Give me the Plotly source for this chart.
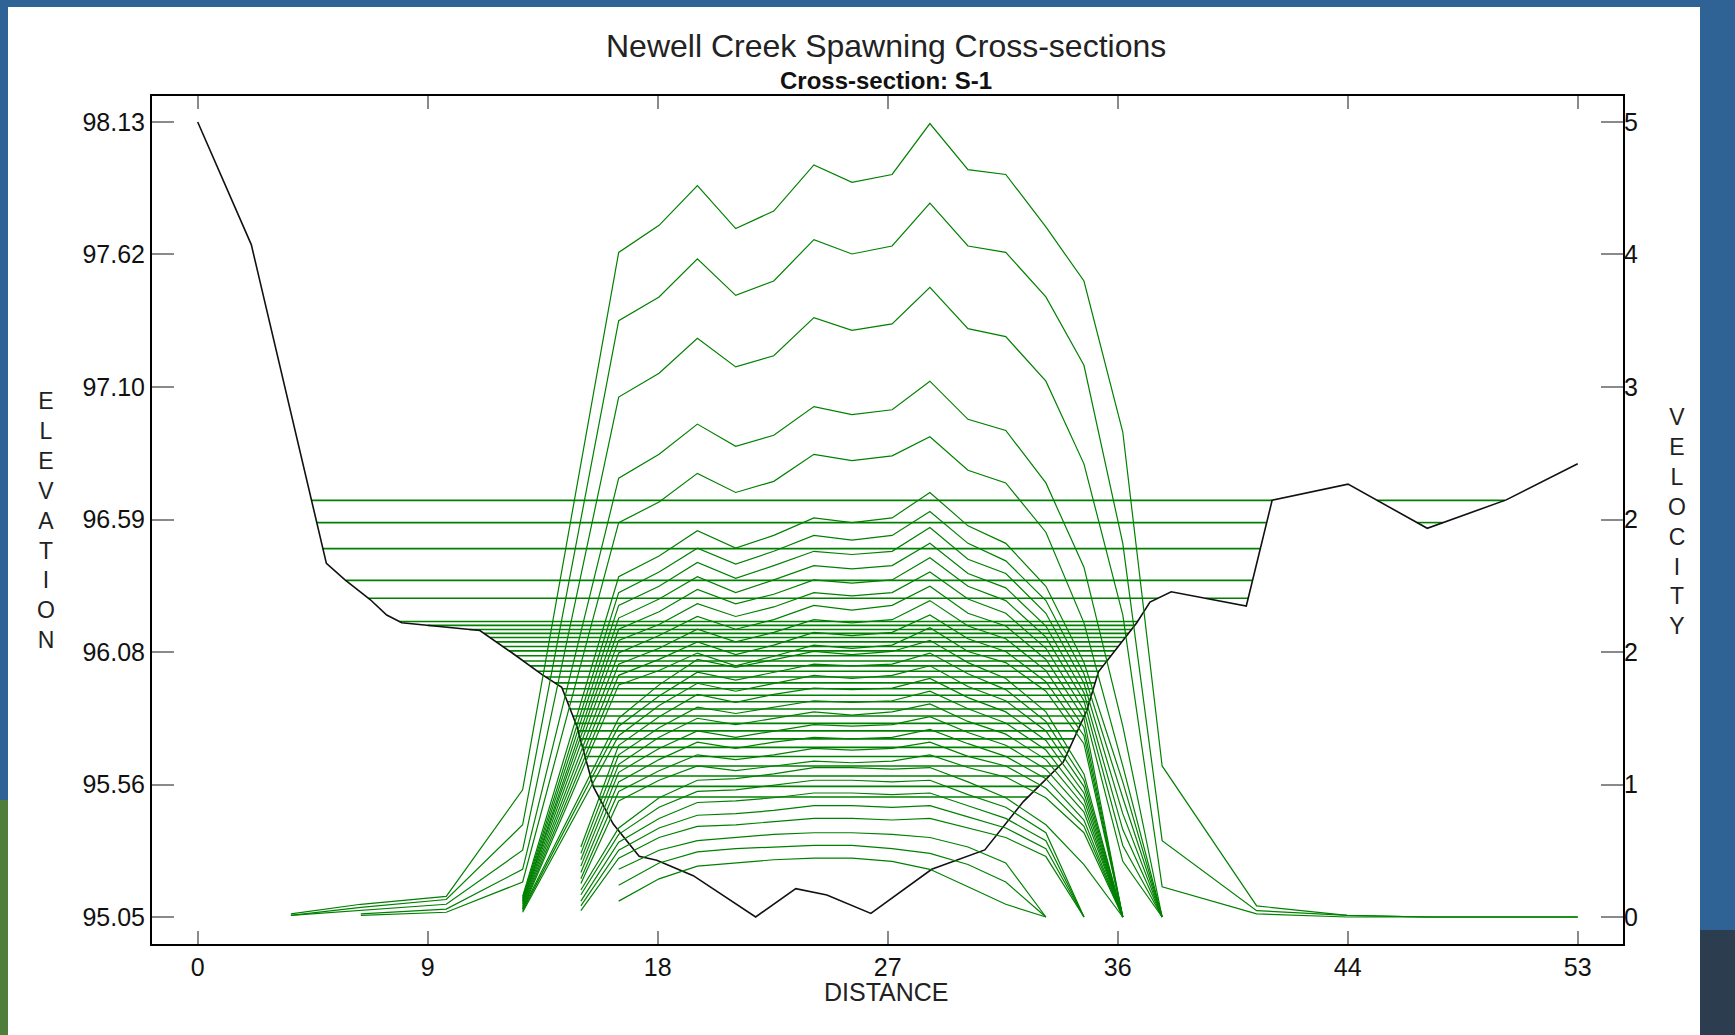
import plotly.graph_objects as go

# ---------------- data ----------------
bed_station = [0.0, 2.07, 4.97, 5.69, 6.66, 7.30, 7.88, 10.90, 12.19, 13.29, 14.06, 14.64, 15.28, 16.05,
               17.05, 17.73, 19.14, 21.55, 23.10, 24.30, 26.00, 28.35, 30.40, 31.89, 33.43, 34.34, 34.79,
               35.50, 36.27, 36.78, 37.60, 40.50, 41.50, 44.43, 47.49, 50.54, 53.30]
bed_elev = [98.13, 97.655, 96.42, 96.356, 96.28, 96.22, 96.19, 96.16, 96.07, 95.99, 95.94, 95.79, 95.555, 95.41,
            95.285, 95.27, 95.21, 95.05, 95.16, 95.135, 95.064, 95.235, 95.31, 95.497, 95.65, 95.85, 96.0,
            96.09, 96.19, 96.27, 96.31, 96.255, 96.665, 96.727, 96.556, 96.666, 96.806]

wse_levels = [96.664, 96.578, 96.477, 96.354, 96.285,
              96.195, 96.180, 96.164, 96.149, 96.133, 96.116, 96.098, 96.081, 96.062, 96.042,
              96.023, 96.002, 95.980, 95.957, 95.934, 95.909, 95.884, 95.856, 95.829, 95.800,
              95.771, 95.740, 95.707, 95.672, 95.635, 95.596, 95.556, 95.515]

vel_station = [3.6, 6.3, 9.6, 12.55, 14.8, 16.26, 17.82, 19.30, 20.78, 22.25, 23.80, 25.27, 26.82,
               28.28, 29.75, 31.21, 32.76, 34.23, 35.73, 37.25, 40.9, 44.4, 47.5, 50.5, 53.3]
N = None
velocity_profiles = [
    [0.02, 0.08, 0.13, 0.80, N, 4.18, 4.35, 4.60, 4.33, 4.44, 4.73, 4.62, 4.67, 4.99, 4.70, 4.67, 4.34, 4.00, 3.05, 0.95, 0.07, 0.01, 0.0, 0.0, 0.0],
    [0.01, 0.06, 0.11, 0.58, N, 3.75, 3.90, 4.14, 3.91, 4.00, 4.26, 4.17, 4.22, 4.49, 4.22, 4.18, 3.90, 3.47, 2.35, 0.48, 0.04, 0.01, 0.0, 0.0, 0.0],
    [0.01, 0.04, 0.08, 0.42, N, 3.27, 3.42, 3.64, 3.46, 3.53, 3.77, 3.69, 3.73, 3.96, 3.70, 3.65, 3.37, 2.85, 1.90, 0.19, 0.02, 0.0, 0.0, 0.0, 0.0],
    [N, 0.02, 0.05, 0.30, N, 2.76, 2.91, 3.10, 2.96, 3.03, 3.21, 3.16, 3.19, 3.37, 3.13, 3.06, 2.73, 2.20, 1.20, 0.0, N, N, N, N, N],
    [N, 0.01, 0.03, 0.22, N, 2.48, 2.61, 2.79, 2.67, 2.74, 2.91, 2.87, 2.90, 3.02, 2.81, 2.73, 2.42, 1.85, 0.95, 0.0, N, N, N, N, N],
    [N, N, N, 0.13, N, 2.14, 2.27, 2.43, 2.32, 2.40, 2.51, 2.48, 2.51, 2.67, 2.46, 2.35, 2.08, 1.60, 0.85, 0.0, N, N, N, N, N],
    [N, N, N, 0.12, N, 2.04, 2.17, 2.32, 2.22, 2.30, 2.40, 2.37, 2.40, 2.55, 2.35, 2.24, 1.99, 1.53, 0.75, 0.0, N, N, N, N, N],
    [N, N, N, 0.11, N, 1.96, 2.08, 2.23, 2.13, 2.21, 2.30, 2.28, 2.30, 2.45, 2.25, 2.16, 1.91, 1.47, 0.65, 0.0, N, N, N, N, N],
    [N, N, N, 0.10, N, 1.88, 2.00, 2.14, 2.04, 2.12, 2.21, 2.19, 2.21, 2.35, 2.16, 2.07, 1.83, 1.41, 0.55, 0.0, N, N, N, N, N],
    [N, N, N, 0.10, N, 1.81, 1.92, 2.06, 1.97, 2.03, 2.12, 2.10, 2.12, 2.26, 2.08, 1.99, 1.76, 1.36, 0.45, 0.0, N, N, N, N, N],
    [N, N, N, 0.09, N, 1.74, 1.84, 1.97, 1.89, 1.95, 2.04, 2.02, 2.04, 2.17, 2.00, 1.91, 1.69, 1.30, 0.35, 0.0, N, N, N, N, N],
    [N, N, N, 0.08, N, 1.66, 1.77, 1.89, 1.81, 1.87, 1.96, 1.93, 1.96, 2.08, 1.91, 1.83, 1.62, 1.25, 0.0, N, N, N, N, N, N],
    [N, N, N, 0.07, N, 1.59, 1.69, 1.81, 1.73, 1.79, 1.87, 1.85, 1.87, 1.99, 1.83, 1.75, 1.55, 1.19, 0.0, N, N, N, N, N, N],
    [N, N, N, 0.06, N, 1.52, 1.62, 1.73, 1.65, 1.71, 1.79, 1.77, 1.79, 1.90, 1.75, 1.67, 1.48, 1.14, 0.0, N, N, N, N, N, N],
    [N, N, N, 0.05, N, 1.46, 1.55, 1.66, 1.58, 1.64, 1.71, 1.69, 1.71, 1.82, 1.67, 1.60, 1.42, 1.09, 0.0, N, N, N, N, N, N],
    [N, N, N, 0.05, N, 1.25, 1.46, 1.62, 1.57, 1.62, 1.67, 1.65, 1.67, 1.74, 1.60, 1.50, 1.29, 0.90, 0.0, N, N, N, N, N, N],
    [N, N, N, 0.04, N, 1.20, 1.39, 1.54, 1.49, 1.54, 1.59, 1.58, 1.59, 1.66, 1.53, 1.43, 1.23, 0.86, 0.0, N, N, N, N, N, N],
    [N, N, N, 0.03, N, 1.14, 1.33, 1.47, 1.42, 1.47, 1.52, 1.50, 1.52, 1.58, 1.45, 1.36, 1.17, 0.82, 0.0, N, N, N, N, N, N],
    [N, N, N, N, 0.44, 1.08, 1.26, 1.40, 1.35, 1.40, 1.44, 1.43, 1.44, 1.50, 1.38, 1.29, 1.11, 0.78, 0.0, N, N, N, N, N, N],
    [N, N, N, N, 0.40, 1.02, 1.19, 1.32, 1.28, 1.32, 1.36, 1.35, 1.36, 1.42, 1.31, 1.22, 1.05, 0.74, 0.0, N, N, N, N, N, N],
    [N, N, N, N, 0.36, 0.96, 1.13, 1.25, 1.21, 1.25, 1.29, 1.27, 1.29, 1.34, 1.23, 1.15, 0.99, 0.70, 0.0, N, N, N, N, N, N],
    [N, N, N, N, 0.32, 0.91, 1.06, 1.17, 1.13, 1.17, 1.21, 1.20, 1.21, 1.26, 1.16, 1.08, 0.93, 0.66, 0.0, N, N, N, N, N, N],
    [N, N, N, N, 0.28, 0.85, 0.99, 1.10, 1.06, 1.10, 1.13, 1.12, 1.13, 1.18, 1.09, 1.01, 0.87, 0.61, 0.0, N, N, N, N, N, N],
    [N, N, N, N, 0.24, 0.79, 0.92, 1.02, 0.99, 1.02, 1.06, 1.05, 1.06, 1.10, 1.01, 0.95, 0.81, 0.57, 0.0, N, N, N, N, N, N],
    [N, N, N, N, 0.21, 0.73, 0.86, 0.95, 0.92, 0.95, 0.98, 0.97, 0.98, 1.02, 0.94, 0.88, 0.75, 0.53, 0.0, N, N, N, N, N, N],
    [N, N, N, N, 0.17, 0.56, 0.75, 0.86, 0.87, 0.90, 0.94, 0.94, 0.93, 0.94, 0.85, 0.75, 0.58, 0.33, 0.0, N, N, N, N, N, N],
    [N, N, N, N, 0.14, 0.52, 0.69, 0.79, 0.80, 0.83, 0.86, 0.86, 0.85, 0.86, 0.77, 0.69, 0.53, 0.0, N, N, N, N, N, N, N],
    [N, N, N, N, 0.10, 0.47, 0.62, 0.72, 0.73, 0.75, 0.78, 0.78, 0.77, 0.78, 0.70, 0.62, 0.48, 0.0, N, N, N, N, N, N, N],
    [N, N, N, N, 0.07, 0.42, 0.56, 0.64, 0.65, 0.67, 0.70, 0.70, 0.69, 0.70, 0.63, 0.56, 0.43, 0.0, N, N, N, N, N, N, N],
    [N, N, N, N, 0.04, 0.37, 0.50, 0.57, 0.58, 0.60, 0.62, 0.62, 0.61, 0.62, 0.56, 0.50, 0.38, 0.0, N, N, N, N, N, N, N],
    [N, N, N, N, N, 0.30, 0.42, 0.48, 0.50, 0.52, 0.53, 0.53, 0.52, 0.50, 0.44, 0.34, 0.0, N, N, N, N, N, N, N, N],
    [N, N, N, N, N, 0.20, 0.34, 0.41, 0.43, 0.44, 0.45, 0.45, 0.43, 0.40, 0.33, 0.22, 0.0, N, N, N, N, N, N, N, N],
    [N, N, N, N, N, 0.10, 0.24, 0.32, 0.34, 0.36, 0.37, 0.37, 0.35, 0.30, 0.19, 0.08, 0.0, N, N, N, N, N, N, N, N],
]

x_tick_vals = [0.0, 8.883, 17.767, 26.65, 35.533, 44.417, 53.3]
x_tick_text = ["0", "9", "18", "27", "36", "44", "53"]
elev_tick_vals = [95.05, 95.5633, 96.0767, 96.59, 97.1033, 97.6167, 98.13]
elev_tick_text = ["95.05", "95.56", "96.08", "96.59", "97.10", "97.62", "98.13"]
vel_tick_vals = [0.0, 0.8333, 1.6667, 2.5, 3.3333, 4.1667, 5.0]
vel_tick_text = ["0", "1", "2", "2", "3", "4", "5"]

title_text = "Newell Creek Spawning Cross-sections"
subtitle_text = "Cross-section: S-1"
x_title = "DISTANCE"
left_title = "ELEVATION"
right_title = "VELOCITY"

# ---------------- helpers ----------------
def wet_segments(level):
    """Intervals along the section where the bed lies below the water level."""
    intervals = []
    for i in range(len(bed_station) - 1):
        x0, z0, x1, z1 = bed_station[i], bed_elev[i], bed_station[i + 1], bed_elev[i + 1]
        if z0 >= level and z1 >= level:
            continue
        a, b = x0, x1
        if z0 >= level:
            a = x0 + (z0 - level) / (z0 - z1) * (x1 - x0)
        if z1 >= level:
            b = x0 + (level - z0) / (z1 - z0) * (x1 - x0)
        if intervals and abs(intervals[-1][1] - a) < 1e-9:
            intervals[-1][1] = b
        else:
            intervals.append([a, b])
    xs, ys = [], []
    for a, b in intervals:
        xs += [a, b, None]
        ys += [level, level, None]
    return xs, ys

GREEN = "#008000"
FONT = "Liberation Sans, Arial, sans-serif"

fig = go.Figure()

for lvl in wse_levels:
    xs, ys = wet_segments(lvl)
    fig.add_trace(go.Scatter(x=xs, y=ys, mode="lines", line=dict(color=GREEN, width=1.6),
                             connectgaps=False, hoverinfo="skip", yaxis="y"))

for prof in velocity_profiles:
    fig.add_trace(go.Scatter(x=vel_station, y=prof, mode="lines", line=dict(color=GREEN, width=1.2),
                             connectgaps=True, hoverinfo="skip", yaxis="y2"))

fig.add_trace(go.Scatter(x=bed_station, y=bed_elev, mode="lines", line=dict(color="#111111", width=1.6),
                         hoverinfo="skip", yaxis="y"))

W, H = 1735, 1035
ML, MR, MT, MB = 152, 112, 96, 91
PW, PH = W - ML - MR, H - MT - MB

def px(xp):
    return (xp - ML) / PW

def py(yp):
    return (H - MB - yp) / PH

tick_font = dict(family=FONT, size=25, color="#111111")

fig.update_layout(
    width=W, height=H,
    margin=dict(l=ML, r=MR, t=MT, b=MB, pad=0),
    paper_bgcolor="#2f6396",
    plot_bgcolor="white",
    showlegend=False,
    xaxis=dict(range=[-1.765, 55.05], tickvals=x_tick_vals, ticktext=x_tick_text, ticks="inside",
               ticklen=13, tickwidth=2, tickcolor="#8a8a8a", showline=True, linecolor="black",
               linewidth=2, mirror="ticks", showgrid=False, zeroline=False, tickfont=tick_font),
    yaxis=dict(range=[94.9454, 98.2307], tickvals=elev_tick_vals, ticktext=elev_tick_text, ticks="inside",
               ticklen=22, tickwidth=2, tickcolor="#8a8a8a", showline=True, linecolor="black",
               linewidth=2, mirror=True, showgrid=False, zeroline=False, tickfont=tick_font),
    yaxis2=dict(range=[-0.1698, 5.1635], tickvals=vel_tick_vals, ticktext=vel_tick_text, ticks="inside",
                ticklen=22, tickwidth=2, tickcolor="#8a8a8a", overlaying="y", side="right",
                showline=False, showgrid=False, zeroline=False, tickfont=tick_font),
    shapes=[
        dict(type="rect", xref="paper", yref="paper", layer="below",
             x0=px(8), x1=px(1700), y0=py(H + 5), y1=py(7),
             fillcolor="white", line=dict(width=0)),
        dict(type="rect", xref="paper", yref="paper", layer="below",
             x0=px(-5), x1=px(8), y0=py(H + 5), y1=py(800),
             fillcolor="#4f7d3a", line=dict(width=0)),
        dict(type="rect", xref="paper", yref="paper", layer="below",
             x0=px(1700), x1=px(W + 5), y0=py(H + 5), y1=py(930),
             fillcolor="#2c3d50", line=dict(width=0)),
    ],
    annotations=[
        dict(text=title_text, x=px(886), y=py(46), xref="paper", yref="paper", showarrow=False,
             xanchor="center", yanchor="middle", font=dict(family=FONT, size=32, color="#222222")),
        dict(text="<b>" + subtitle_text + "</b>", x=px(886), y=py(80), xref="paper", yref="paper",
             showarrow=False, xanchor="center", yanchor="middle",
             font=dict(family=FONT, size=24, color="#111111")),
        dict(text=x_title, x=px(886), y=py(992), xref="paper", yref="paper", showarrow=False,
             xanchor="center", yanchor="middle", font=dict(family=FONT, size=25, color="#222222")),
        dict(text="<br>".join(left_title), x=px(46), y=py(520), xref="paper", yref="paper",
             showarrow=False, xanchor="center", yanchor="middle", align="center",
             font=dict(family=FONT, size=23, color="#222222")),
        dict(text="<br>".join(right_title), x=px(1677), y=py(521), xref="paper", yref="paper",
             showarrow=False, xanchor="center", yanchor="middle", align="center",
             font=dict(family=FONT, size=23, color="#222222")),
    ],
)

fig.write_html("out.html")
